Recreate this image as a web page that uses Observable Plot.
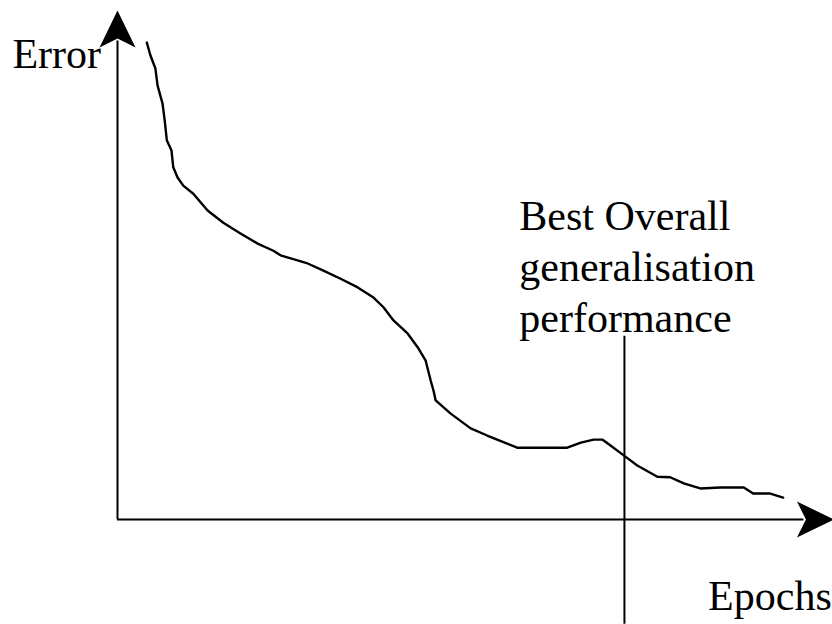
<!DOCTYPE html>
<html>
<head>
<meta charset="utf-8">
<script src="https://cdn.jsdelivr.net/npm/d3@7"></script>
<script src="https://cdn.jsdelivr.net/npm/@observablehq/plot@0.6"></script>
<style>
  html, body { margin: 0; padding: 0; background: #fff; }
  #chart svg { display: block; }
</style>
</head>
<body>
<div id="chart"></div>
<script>
// Training error curve (epochs in arbitrary units 0–100, error 0–100)
const epochs = [4.1, 4.6, 5.3, 5.6, 6.3, 6.6, 6.9, 7.55, 7.8, 8.4, 9.2, 10.6, 12.6, 14.8, 17.2, 19.6, 21.8, 22.8, 26.6, 28.8, 31.2, 33.6, 35.8, 37.2, 38.6, 40.6, 42.0, 43.1, 43.8, 44.2, 44.5, 46.6, 49.4, 51.7, 54.5, 55.9, 62.9, 64.8, 66.6, 67.8, 69.0, 70.8, 72.7, 75.5, 77.3, 79.2, 81.5, 84.3, 87.6, 88.9, 91.3, 93.1];
const errorValues = [93.7, 91.2, 88.6, 85.3, 81.7, 78.4, 74.5, 72.5, 69.2, 67.2, 65.6, 64.0, 60.7, 58.3, 56.2, 54.2, 52.8, 51.9, 50.3, 48.9, 47.3, 45.6, 43.6, 41.7, 39.1, 36.5, 33.8, 31.2, 27.3, 25.3, 23.4, 20.8, 17.9, 16.5, 14.9, 14.1, 14.1, 15.1, 15.7, 15.7, 14.5, 12.6, 10.6, 8.4, 8.3, 7.1, 6.1, 6.3, 6.3, 5.1, 5.1, 4.3];

// Best generalisation marker
const bestEpoch = [70.9];
const bestRange = [36.0, -20.6];

// Labels
const labelTexts = ["Error", "Epochs", "Best Overall\ngeneralisation\nperformance"];
const labelX = [-14.7, 82.6, 56.2];
const labelY = [88.8, -17.7, 36.9];

const curve = epochs.map((e, i) => ({epoch: e, error: errorValues[i]}));
const labels = labelTexts.map((t, i) => ({text: t, x: labelX[i], y: labelY[i]}));

// Stealth-style arrowhead, tip at origin, body pointing down (i.e. arrow points up)
const arrowHead = {
  draw(context) {
    context.moveTo(0, 0);
    context.lineTo(-18, 37);
    context.lineTo(0, 28);
    context.lineTo(18, 37);
    context.closePath();
  }
};

const chart = Plot.plot({
  width: 832,
  height: 624,
  marginLeft: 117,
  marginRight: 0,
  marginTop: 10,
  marginBottom: 105,
  x: {domain: [0, 100], axis: null},
  y: {domain: [0, 100], axis: null},
  style: {fontFamily: "'Liberation Serif', 'Times New Roman', serif", background: "#fff"},
  marks: [
    // axes
    Plot.ruleX([0], {y1: 0, y2: 94, stroke: "black", strokeWidth: 2}),
    Plot.ruleY([0], {x1: 0, x2: 96, stroke: "black", strokeWidth: 2}),
    Plot.dot([{x: 0, y: 100}], {x: "x", y: "y", symbol: arrowHead, r: 10, fill: "black", stroke: "none"}),
    Plot.dot([{x: 100.2, y: 0}], {x: "x", y: "y", symbol: arrowHead, r: 10, rotate: 90, fill: "black", stroke: "none"}),
    // error curve
    Plot.line(curve, {x: "epoch", y: "error", stroke: "black", strokeWidth: 2.4, curve: "linear"}),
    // best generalisation line
    Plot.ruleX(bestEpoch, {y1: bestRange[0], y2: bestRange[1], stroke: "black", strokeWidth: 2}),
    // labels
    Plot.text(labels, {x: "x", y: "y", text: "text", textAnchor: "start", lineAnchor: "bottom", lineHeight: 1.215, fontSize: 42, fill: "black"})
  ]
});

document.getElementById("chart").appendChild(chart);
</script>
</body>
</html>
